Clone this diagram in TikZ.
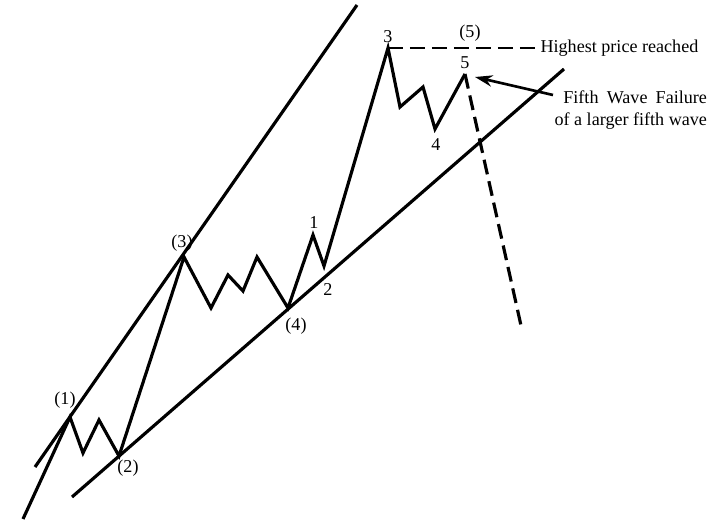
\documentclass[tikz,border=0pt]{standalone}
\usepackage{fontspec}
\setmainfont{Liberation Serif}
\usepackage{tikz}
\usetikzlibrary{arrows.meta}
\newlength{\failw}

\begin{document}
\settowidth{\failw}{\fontsize{10.3}{12.5}\selectfont of a larger fifth wave}
\addtolength{\failw}{-5pt}
\begin{tikzpicture}[x=0.02cm,y=-0.02cm,line width=1.8pt,>={Stealth[length=10pt,width=6.5pt]},
  lbl/.style={inner sep=0pt,font=\fontsize{10.3}{12.5}\selectfont},
  dsh/.style={dash pattern=on 8.5pt off 4pt}]
\useasboundingbox (0,0) rectangle (720,521);
% channel lines
\coordinate (u0) at (35,467); \coordinate (u1) at (357,5);
\coordinate (l0) at (72,497); \coordinate (l1) at (564,69);
\draw (u0)--(u1); \draw (l0)--(l1);
% wave points
\coordinate (w0) at (23,519);
\coordinate (p1) at (70,417); \coordinate (a1) at (83,453); \coordinate (a2) at (99,420);
\coordinate (p2) at (119,456);
\coordinate (p3) at (184,257); \coordinate (b1) at (211,308); \coordinate (b2) at (228,275);
\coordinate (b3) at (243,291); \coordinate (b4) at (257,257);
\coordinate (p4) at (288,308);
\coordinate (s1) at (313,235); \coordinate (s2) at (324,266);
\coordinate (s3) at (388,48); \coordinate (s3a) at (400,107); \coordinate (s3b) at (423,87);
\coordinate (s4) at (435,129); \coordinate (s5) at (465,74);
\coordinate (e5) at (522,330); \coordinate (hp) at (539,48);
\draw[line join=miter] (w0)--(p1)--(a1)--(a2)--(p2)--(p3)--(b1)--(b2)--(b3)--(b4)--(p4)--(s1)--(s2)--(s3)--(s3a)--(s3b)--(s4)--(s5);
\draw[dsh] (s5)--(e5);
\draw[dsh,line width=1.4pt] (s3)--(hp);
% labels
\node[lbl] (t1) at (65,400) {(1)};
\node[lbl] (t2) at (128,468) {(2)};
\node[lbl] (t3) at (182,243) {(3)};
\node[lbl] (t4) at (296,326) {(4)};
\node[lbl] (t5) at (470,33) {(5)};
\node[lbl] (n1) at (314,223) {1};
\node[lbl] (n2) at (328,290) {2};
\node[lbl] (n3) at (388,37) {3};
\node[lbl] (n4) at (436,145) {4};
\node[lbl] (n5) at (465,63) {5};
\node[lbl,anchor=west] (hpr) at (hp) {Highest price reached};
\node[lbl,anchor=north west,align=left] (fail) at (553,89) {\hspace*{5pt}\makebox[\failw][s]{Fifth Wave Failure}\\of a larger fifth wave};
\coordinate (ar) at (475,77);
\draw[->,line width=1.5pt] (fail.west|-0,95) -- (ar);
\end{tikzpicture}
\end{document}
